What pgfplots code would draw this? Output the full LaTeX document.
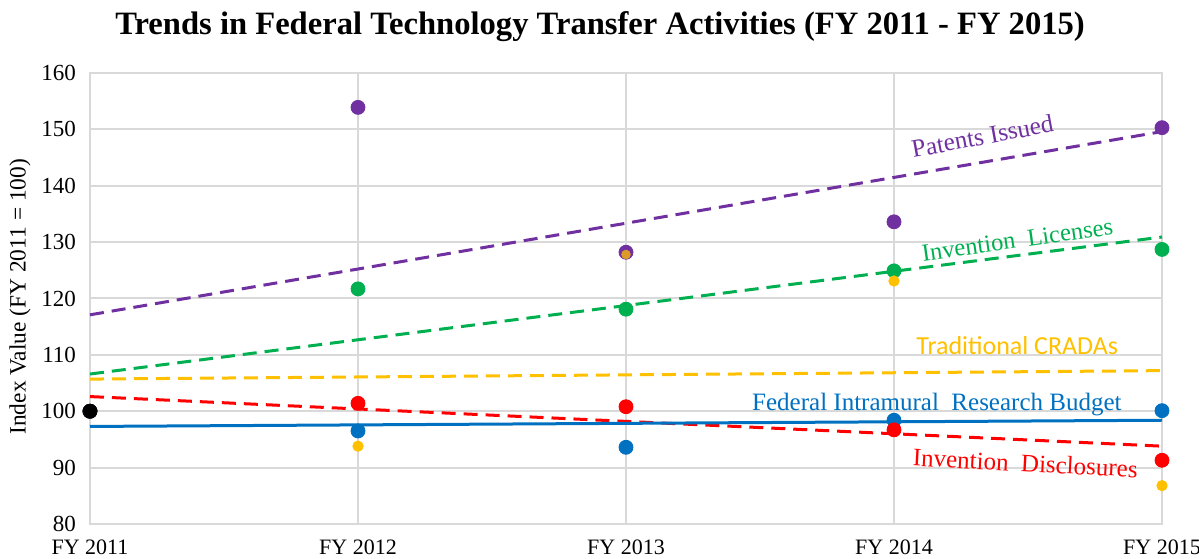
\documentclass[border=0pt]{standalone}
\usepackage{fontspec}
\setmainfont{Liberation Serif}
\newfontfamily\carlito{Carlito}
\usepackage{pgfplots}
\pgfplotsset{compat=1.18}
\definecolor{cpurple}{HTML}{7030A0}
\definecolor{cgreen}{HTML}{00B050}
\definecolor{cgold}{HTML}{FFC000}
\definecolor{cred}{HTML}{FF0000}
\definecolor{cblue}{HTML}{0070C0}
\definecolor{cgrid}{HTML}{D9D9D9}
\begin{document}
\begin{tikzpicture}
\begin{axis}[
  name=ax,
  scale only axis,
  width=536pt, height=225.5pt,
  xmin=0, xmax=4, ymin=80, ymax=160,
  xtick={0,1,2,3,4},
  xticklabels={FY 2011,FY 2012,FY 2013,FY 2014,FY 2015},
  ytick={80,90,...,160},
  grid=major,
  grid style={cgrid, line width=1pt},
  axis line style={cgrid, line width=1pt},
  major tick length=0pt,
  yticklabel style={font=\fontsize{11.5}{13}\selectfont, xshift=-3.5pt},
  xticklabel style={font=\fontsize{11}{13}\selectfont, yshift=-4.5pt},
  /pgf/number format/assume math mode=true,
  clip=false,
  dashtrend/.style={line width=1.5pt, dash pattern=on 7pt off 4pt},
]
% trendlines
\addplot[cpurple, dashtrend] coordinates {(0,117.1) (4,149.6)};
\addplot[cgreen, dashtrend] coordinates {(0,106.6) (4,130.9)};
\addplot[cgold, dashtrend] coordinates {(0,105.7) (4,107.2)};
\addplot[cred, dashtrend] coordinates {(0,102.6) (4,93.8)};
\addplot[cblue, line width=1.5pt] coordinates {(0,97.3) (4,98.4)};
% data points
\addplot[only marks, mark=*, mark size=3.5pt, cblue] coordinates {(0,100) (1,96.5) (2,93.6) (3,98.4) (4,100.1)};
\addplot[only marks, mark=*, mark size=3.5pt, cred] coordinates {(0,100) (1,101.4) (2,100.8) (3,96.7) (4,91.3)};
\addplot[only marks, mark=*, mark size=3.5pt, cgreen] coordinates {(0,100) (1,121.7) (2,118.1) (3,124.9) (4,128.7)};
\addplot[only marks, mark=*, mark size=2.6pt, cgold] coordinates {(0,100) (1,93.8) (3,123.1) (4,86.8)};
\addplot[only marks, mark=*, mark size=3.5pt, cpurple] coordinates {(0,100) (1,153.9) (2,128.2) (3,133.6) (4,150.3)};
\addplot[only marks, mark=*, mark size=2.4pt, cgold, fill opacity=0.75, draw opacity=0] coordinates {(2,127.8)};
\addplot[only marks, mark=*, mark size=3.5pt, black] coordinates {(0,100)};
% labels
\node[cpurple, rotate=10.5, font=\fontsize{12.6}{14}\selectfont] at (axis cs:3.33,148.8) {Patents Issued};
\node[cgreen, rotate=8, font=\fontsize{12.3}{14}\selectfont] at (axis cs:3.46,130.4) {Invention\ \ Licenses};
\node[cgold, font=\carlito\fontsize{13}{15}\selectfont] at (axis cs:3.46,111.6) {Traditional CRADAs};
\node[cblue, font=\fontsize{12.5}{14}\selectfont] at (axis cs:3.16,101.1) {Federal Intramural\ \ Research Budget};
\node[cred, rotate=-3, font=\fontsize{12.5}{14}\selectfont] at (axis cs:3.49,90.8) {Invention\ \ Disclosures};
\node[font=\bfseries\fontsize{16.3}{19}\selectfont] at (axis cs:1.903,168.2) {Trends in Federal Technology Transfer Activities (FY 2011 - FY 2015)};
\node[rotate=90, font=\fontsize{11.7}{13}\selectfont] at (axis cs:-0.261,120.3) {Index Value (FY 2011 = 100)};
\end{axis}
\pgfresetboundingbox
\path ([shift={(-45pt,-17.5pt)}]ax.south west) rectangle ([shift={(18.5pt,36.5pt)}]ax.north east);
\end{tikzpicture}
\end{document}
